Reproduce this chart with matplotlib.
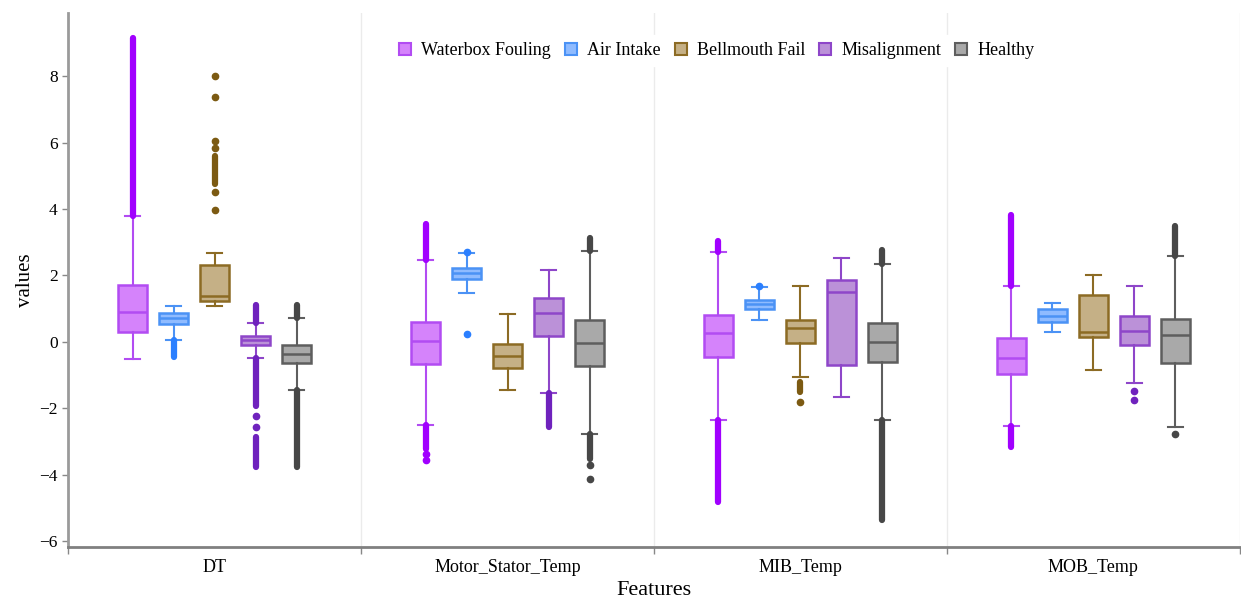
# %% import
import matplotlib
matplotlib.use("Agg")
import matplotlib.pyplot as plt
from matplotlib.lines import Line2D

plt.rcParams["font.family"] = ["Liberation Serif", "DejaVu Serif"]
plt.rcParams["figure.facecolor"] = "white"

# %% data
features = ["DT", "Motor_Stator_Temp", "MIB_Temp", "MOB_Temp"]
classes = ["Waterbox Fouling", "Air Intake", "Bellmouth Fail", "Misalignment", "Healthy"]

waterbox_whislo = [-0.53, -2.50, -2.37, -2.53]
waterbox_q1 = [0.30, -0.66, -0.47, -0.96]
waterbox_med = [0.91, 0.03, 0.25, -0.50]
waterbox_q3 = [1.71, 0.60, 0.80, 0.10]
waterbox_whishi = [3.80, 2.46, 2.71, 1.67]

air_whislo = [0.04, 1.48, 0.64, 0.28]
air_q1 = [0.53, 1.90, 0.98, 0.60]
air_med = [0.72, 2.06, 1.13, 0.78]
air_q3 = [0.87, 2.22, 1.25, 0.99]
air_whishi = [1.07, 2.67, 1.64, 1.18]

bell_whislo = [1.08, -1.44, -1.07, -0.86]
bell_q1 = [1.23, -0.80, -0.05, 0.14]
bell_med = [1.39, -0.43, 0.40, 0.30]
bell_q3 = [2.31, -0.07, 0.66, 1.40]
bell_whishi = [2.67, 0.84, 1.67, 2.01]

mis_whislo = [-0.48, -1.53, -1.66, -1.23]
mis_q1 = [-0.10, 0.17, -0.70, -0.10]
mis_med = [0.04, 0.86, 1.50, 0.31]
mis_q3 = [0.17, 1.32, 1.87, 0.78]
mis_whishi = [0.57, 2.15, 2.52, 1.67]

healthy_whislo = [-1.44, -2.78, -2.37, -2.56]
healthy_q1 = [-0.64, -0.72, -0.61, -0.63]
healthy_med = [-0.37, -0.04, -0.02, 0.19]
healthy_q3 = [-0.10, 0.66, 0.57, 0.67]
healthy_whishi = [0.72, 2.74, 2.35, 2.58]

# single outlier points, per feature
waterbox_out = [[], [-3.37, -3.55], [], []]
air_out = [[], [0.24, 2.70], [1.67], []]
bell_out = [[8.0, 7.38, 6.04, 5.84, 4.50, 3.98], [], [-1.81], []]
mis_out = [[-2.25, -2.57], [], [], [-1.47, -1.76]]
healthy_out = [[], [-3.72, -4.12], [], [-2.78]]

# densely packed outliers (drawn as solid runs lo..hi), per feature
waterbox_runs = [[(3.80, 9.15)], [(2.46, 3.56), (-3.23, -2.50)],
                 [(2.71, 3.03), (-4.83, -2.37)], [(1.67, 3.81), (-3.16, -2.53)]]
air_runs = [[(-0.45, 0.04)], [], [], []]
bell_runs = [[(4.74, 5.59)], [], [(-1.52, -1.20)], []]
mis_runs = [[(0.57, 1.10), (-1.95, -0.48), (-3.76, -2.86)], [(-2.56, -1.53)], [], []]
healthy_runs = [[(0.72, 1.10), (-3.76, -1.44)], [(2.74, 3.11), (-3.52, -2.78)],
                [(2.35, 2.76), (-5.37, -2.37)], [(2.58, 3.48)]]

stats_all = [
    (waterbox_whislo, waterbox_q1, waterbox_med, waterbox_q3, waterbox_whishi, waterbox_out, waterbox_runs),
    (air_whislo, air_q1, air_med, air_q3, air_whishi, air_out, air_runs),
    (bell_whislo, bell_q1, bell_med, bell_q3, bell_whishi, bell_out, bell_runs),
    (mis_whislo, mis_q1, mis_med, mis_q3, mis_whishi, mis_out, mis_runs),
    (healthy_whislo, healthy_q1, healthy_med, healthy_q3, healthy_whishi, healthy_out, healthy_runs),
]

line_colors = ["#b24cf2", "#4b92f5", "#8c6b24", "#8e46c9", "#5e5e5e"]
fill_colors = ["#d583fb", "#8fbbff", "#c5b086", "#bb91d8", "#a9a9a9"]
dot_colors = ["#a100ff", "#2a7fff", "#7c5a12", "#6f22bd", "#474747"]

# %% plotting
fig = plt.figure(figsize=(12.41, 6.05), dpi=100)
ax = fig.add_axes([0.055, 0.096, 0.944, 0.8825])

offsets = [-0.28, -0.14, 0.0, 0.14, 0.28]
box_w = 0.1

for k, (wlo, q1, med, q3, whi, outs, runs) in enumerate(stats_all):
    bstats = []
    pos = []
    for i in range(len(features)):
        bstats.append(dict(whislo=wlo[i], q1=q1[i], med=med[i], q3=q3[i],
                           whishi=whi[i], fliers=outs[i]))
        pos.append(i + 0.5 + offsets[k])
    lc = line_colors[k]
    ax.bxp(bstats, positions=pos, widths=box_w, patch_artist=True,
           showfliers=True,
           boxprops=dict(facecolor=fill_colors[k], edgecolor=lc, linewidth=1.8),
           medianprops=dict(color=lc, linewidth=1.8),
           whiskerprops=dict(color=lc, linewidth=1.5),
           capprops=dict(color=lc, linewidth=1.5),
           capwidths=box_w * 0.5,
           flierprops=dict(marker="o", markersize=4.5, markerfacecolor=dot_colors[k],
                           markeredgecolor=dot_colors[k]),
           zorder=3)
    for i in range(len(features)):
        for lo, hi in runs[i]:
            ax.vlines(pos[i], lo, hi, colors=dot_colors[k], linewidth=4.5,
                      capstyle="round", zorder=4)

# axes styling
ax.set_xlim(0, 4)
ax.set_ylim(-6.18, 9.9)
ax.set_yticks([-6, -4, -2, 0, 2, 4, 6, 8])
ax.set_xticks([0, 1, 2, 3, 4])
ax.set_xticklabels([])
ax.set_xticks([0.5, 1.5, 2.5, 3.5], minor=True)
ax.set_xticklabels(features, minor=True)
ax.tick_params(axis="x", which="major", length=5, color="#888888", width=1)
ax.tick_params(axis="x", which="minor", length=0, labelsize=13, pad=9)
ax.tick_params(axis="y", length=4, color="#888888", width=1, labelsize=12.5)

for x in [1, 2, 3, 4]:
    ax.axvline(x, color="#ebebeb", linewidth=1, zorder=0)

ax.spines["top"].set_visible(False)
ax.spines["right"].set_visible(False)
ax.spines["left"].set_color("#9a9a9a")
ax.spines["left"].set_linewidth(2)
ax.spines["bottom"].set_color("#808080")
ax.spines["bottom"].set_linewidth(2)

ax.set_ylabel("values", fontsize=15, labelpad=3)
ax.set_xlabel("Features", fontsize=16, labelpad=3)

handles = [Line2D([], [], linestyle="none", marker="s", markersize=8,
                  markerfacecolor=fill_colors[k], markeredgecolor=line_colors[k],
                  markeredgewidth=1.5) for k in range(len(classes))]
leg = ax.legend(handles, classes, loc="center", bbox_to_anchor=(0.553, 0.93),
                ncol=5, frameon=True, fontsize=13, handlelength=0.8,
                handletextpad=0.5, columnspacing=0.7, borderpad=0.4)
leg.get_frame().set_facecolor("white")
leg.get_frame().set_edgecolor("white")
leg.get_frame().set_alpha(1)
leg.set_zorder(5)

fig.savefig("out.png", dpi=100)
